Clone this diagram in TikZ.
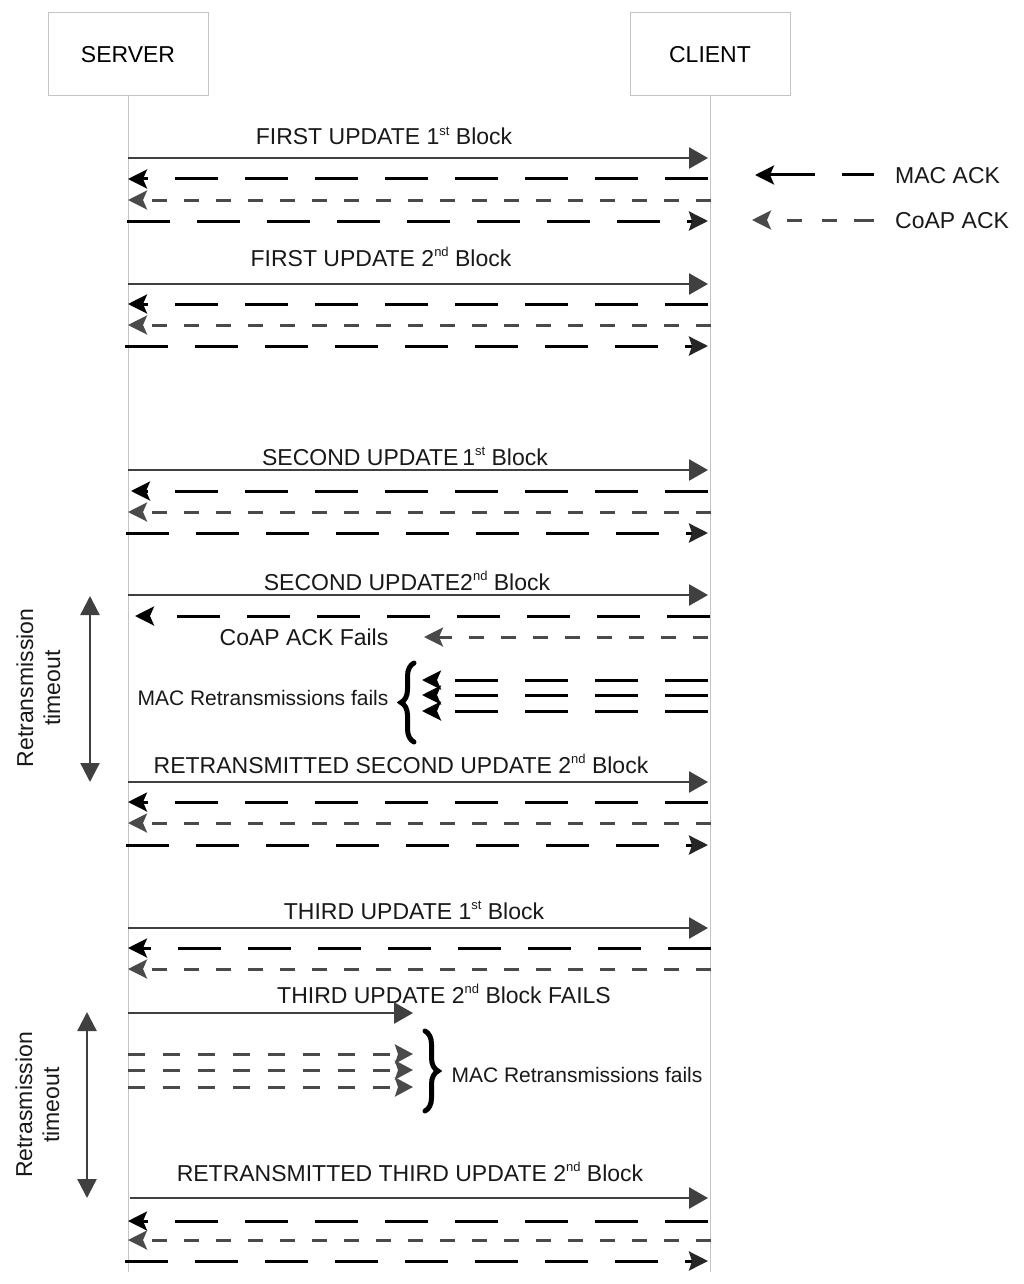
\documentclass[tikz,border=0pt]{standalone}
\usepackage{fontspec}
\setmainfont{Liberation Sans}
\usetikzlibrary{arrows.meta,decorations.pathreplacing}
\definecolor{arrgray}{HTML}{404040}
\definecolor{coapgray}{HTML}{4A4A4A}
\definecolor{linegray}{HTML}{C4C4C4}
\newcommand\ordsup[1]{\raisebox{0.42em}{\fontsize{13}{13}\selectfont #1}}
\begin{document}
\begin{tikzpicture}[x=1pt,y=-1pt,
  lbl/.style={font=\fontsize{23}{27}\selectfont, text=black!90, inner sep=0pt, anchor=base},
  smalllbl/.style={font=\fontsize{21}{25}\selectfont, text=black!90, inner sep=0pt, anchor=base},
  rotlbl/.style={font=\fontsize{23}{27}\selectfont, text=black!90, inner sep=0pt, align=center, rotate=90},
  headbox/.style={draw=linegray, line width=1pt, minimum width=160pt, minimum height=83pt, font=\fontsize{23}{27}\selectfont, inner sep=0pt},
  lifeline/.style={draw=linegray, line width=1pt},
  msg/.style={draw=arrgray, line width=2.6pt, -{Triangle[length=19pt,width=21pt]}},
  mac/.style={draw=black, line width=3pt, dash pattern=on 43pt off 27pt, -{Stealth[length=19pt,width=19pt,inset=4pt]}},
  macfwd/.style={draw=black, line width=3pt, dash pattern=on 43pt off 27pt, -{Stealth[length=19pt,width=19pt,inset=3pt,color=black!85]}},
  coap/.style={draw=coapgray, line width=3pt, dash pattern=on 15pt off 17pt, -{Stealth[length=19pt,width=19pt,inset=4pt]}},
  retr/.style={draw=coapgray, line width=3pt, dash pattern=on 17pt off 18pt, -{Stealth[length=18pt,width=19pt,inset=3pt]}},
  timearrow/.style={draw=arrgray, line width=2.4pt, {Triangle[length=19pt,width=19pt]}-{Triangle[length=19pt,width=19pt]}},
  bracestyle/.style={draw=black, line width=5pt, line cap=round, decorate, decoration={brace, amplitude=13pt}}
]
\fill[white] (0,0) rectangle (1024,1284);
\useasboundingbox (0,0) rectangle (1024,1284);

% header boxes and lifelines
\node[headbox] (server) at (128,54.5) {SERVER};
\node[headbox] (client) at (710,54.5) {CLIENT};
\coordinate (bottom) at (0,1272);
\draw[lifeline] (server.south) -- (server.south |- bottom);
\draw[lifeline] (client.south) -- (client.south |- bottom);

% row coordinates
\foreach \n/\y in {1/158,2/179,3/200,4/221,5/284,6/304,7/325,8/346,9/470,10/491,11/512,12/533,13/595,14/616,15/637,16/680,17/695,18/711,19/782,20/802,21/823,22/845,23/928,24/948,25/969,26/1013,27/1054,28/1070,29/1087,30/1198,31/1221,32/1240,33/1261}
  {\coordinate (s\n) at (128,\y); \coordinate (c\n) at (708,\y);}
\coordinate (f15) at (424,637);
\coordinate (f16) at (422,680);
\coordinate (f17) at (422,695);
\coordinate (f18) at (422,711);
\coordinate (f26) at (413,1013);
\coordinate (f27) at (413,1054);
\coordinate (f28) at (413,1070);
\coordinate (f29) at (413,1087);

% labels
\node[lbl] (l1) at (384,145) {FIRST UPDATE 1\ordsup{st} Block};
\node[lbl] (l2) at (381,266) {FIRST UPDATE 2\ordsup{nd} Block};
\node[lbl] (l3) at (405,465) {SECOND UPDATE\,1\ordsup{st} Block};
\node[lbl] (l4) at (407,590) {SECOND UPDATE2\ordsup{nd} Block};
\node[lbl] (l5) at (304,645) {CoAP ACK Fails};
\node[smalllbl] (l6) at (263,705) {MAC Retransmissions fails};
\node[lbl] (l7) at (401,773) {RETRANSMITTED SECOND UPDATE 2\ordsup{nd} Block};
\node[lbl] (l8) at (414,919) {THIRD UPDATE 1\ordsup{st} Block};
\node[lbl] (l9) at (444,1003) {THIRD UPDATE 2\ordsup{nd} Block FAILS};
\node[smalllbl] (l10) at (577,1082) {MAC Retransmissions fails};
\node[lbl] (l11) at (410,1181) {RETRANSMITTED THIRD UPDATE 2\ordsup{nd} Block};

% block 1
\draw[msg] (s1) -- (c1);
\draw[mac] (c2) -- (s2);
\draw[coap] ([xshift=3pt]c3) -- (s3);
\draw[macfwd] ([xshift=-1pt]s4) -- (c4);
% block 2
\draw[msg] (s5) -- (c5);
\draw[mac] (c6) -- (s6);
\draw[coap] ([xshift=3pt]c7) -- (s7);
\draw[macfwd] ([xshift=-3pt]s8) -- (c8);
% block 3
\draw[msg] (s9) -- (c9);
\draw[mac] (c10) -- ([xshift=3pt]s10);
\draw[coap] ([xshift=3pt]c11) -- (s11);
\draw[macfwd] ([xshift=-2pt]s12) -- (c12);
% block 4
\draw[msg] (s13) -- (c13);
\draw[mac] ([xshift=2pt]c14) -- ([xshift=7pt]s14);
\draw[coap] (c15) -- (f15);
\draw[mac] (c16) -- (f16);
\draw[mac] (c17) -- (f17);
\draw[mac] (c18) -- (f18);
% block 5
\draw[msg] (s19) -- (c19);
\draw[mac] (c20) -- (s20);
\draw[coap] ([xshift=3pt]c21) -- (s21);
\draw[macfwd] ([xshift=-2pt]s22) -- (c22);
% block 6
\draw[msg] (s23) -- (c23);
\draw[mac] ([xshift=3pt]c24) -- (s24);
\draw[coap] ([xshift=3pt]c25) -- (s25);
% block 7
\draw[msg] (s26) -- (f26);
\draw[retr] (s27) -- (f27);
\draw[retr] (s28) -- (f28);
\draw[retr] (s29) -- (f29);
% block 8
\draw[msg] ([xshift=2pt]s30) -- (c30);
\draw[mac] (c31) -- (s31);
\draw[coap] ([xshift=3pt]c32) -- (s32);
\draw[macfwd] ([xshift=-3pt]s33) -- (c33);

% braces
\coordinate (b1a) at (414,742);
\coordinate (b1b) at (414,663);
\draw[bracestyle] (b1a) -- (b1b);
\coordinate (b2a) at (425,1031);
\coordinate (b2b) at (425,1111);
\draw[bracestyle] (b2a) -- (b2b);

% retransmission timeouts
\node[rotlbl] (rt1) at (38.5,688) {Retransmission\\timeout};
\coordinate (rt1a) at (90,596);
\coordinate (rt1b) at (90,782);
\draw[timearrow] (rt1a) -- (rt1b);
\node[rotlbl] (rt2) at (37.5,1105) {Retrasmission\\timeout};
\coordinate (rt2a) at (87,1012);
\coordinate (rt2b) at (87,1198);
\draw[timearrow] (rt2a) -- (rt2b);

% legend
\coordinate (lm1) at (874,175);
\coordinate (lm2) at (755,175);
\draw[black, line width=3pt, dash pattern=on 32pt off 27pt on 90pt, -{Stealth[length=19pt,width=19pt,inset=4pt]}] (lm1) -- (lm2);
\node[lbl, anchor=base west] (lgm) at (895,183) {MAC ACK};
\coordinate (lc1) at (874,220);
\coordinate (lc2) at (752,220);
\draw[coap, dash pattern=on 20pt off 17pt on 15pt off 20pt on 15pt off 20pt on 40pt] (lc1) -- (lc2);
\node[lbl, anchor=base west] (lgc) at (895,228) {CoAP ACK};
\end{tikzpicture}
\end{document}
